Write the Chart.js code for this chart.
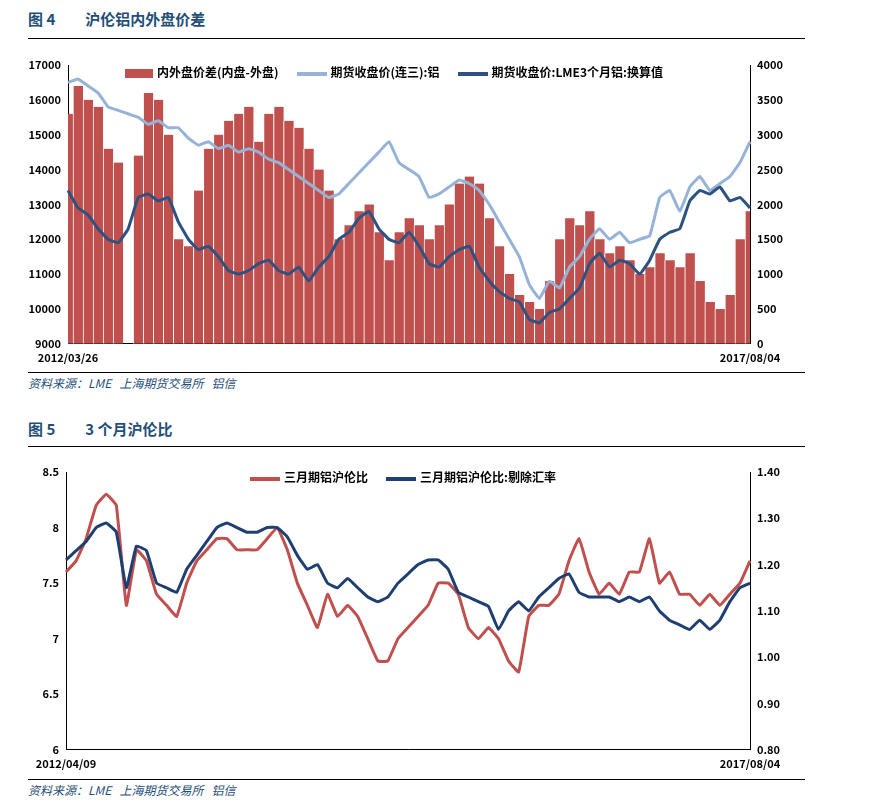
<!DOCTYPE html>
<html>
<head>
<meta charset="utf-8">
<script src="https://cdn.jsdelivr.net/npm/chart.js@4"></script>
<style>
  body { margin: 0; width: 877px; height: 811px; background: #fff; font-family: "Noto Sans CJK SC", sans-serif; position: relative; }
  .title { position: absolute; left: 28px; font-size: 15px; font-weight: bold; color: #1f4e79; }
  .title span { margin-left: 30px; }
  .rule { position: absolute; left: 28px; width: 777px; border-top: 1.5px solid #000; }
  .src { position: absolute; left: 28px; font-size: 12px; font-style: italic; color: #1f4e79; }
  .box { position: absolute; }
  .legend { position: absolute; font-size: 12px; font-weight: bold; color: #000; display: flex; gap: 18px; }
  .legend i { display: inline-block; width: 30px; height: 8px; margin-right: 4px; vertical-align: middle; }
</style>
</head>
<body>
<div class="title" style="top:8px">图 4<span>沪伦铝内外盘价差</span></div>
<div class="rule" style="top:38px"></div>
<div class="box" style="left:28px;top:45px;width:772px;height:322px"><canvas id="c1"></canvas></div>
<div class="legend" style="left:125px;top:63px">
  <div><i style="background:#c0504d;height:9px;width:28px"></i>内外盘价差(内盘-外盘)</div>
  <div><i style="background:#95b3d7;height:4px"></i>期货收盘价(连三):铝</div>
  <div><i style="background:#2c5282;height:4px"></i>期货收盘价:LME3个月铝:换算值</div>
</div>
<div class="rule" style="top:372px"></div>
<div class="src" style="top:374px">资料来源：LME &nbsp;&nbsp;上海期货交易所 &nbsp;&nbsp;铝信</div>

<div class="title" style="top:418px">图 5<span>3 个月沪伦比</span></div>
<div class="rule" style="top:446px"></div>
<div class="box" style="left:28px;top:451px;width:772px;height:322px"><canvas id="c2"></canvas></div>
<div class="legend" style="left:250px;top:468px">
  <div><i style="background:#c0504d;height:4px"></i>三月期铝沪伦比</div>
  <div><i style="background:#1f3f73;height:4px"></i>三月期铝沪伦比:剔除汇率</div>
</div>
<div class="rule" style="top:779px"></div>
<div class="src" style="top:781px">资料来源：LME &nbsp;&nbsp;上海期货交易所 &nbsp;&nbsp;铝信</div>

<script>
// chart 1 (weekly-ish samples)
const start1 = "2012/03/26", end1 = "2017/08/04";
const spread1 = [3300,3700,3500,3400,2800,2600,0,2700,3600,3500,3000,1500,1400,2200,2800,3000,3200,3300,3400,2900,3300,3400,3200,3100,2800,2500,2200,1500,1700,1900,2000,1600,1200,1600,1800,1700,1500,1700,2000,2300,2400,2300,1800,1400,1000,700,600,500,900,1500,1800,1700,1900,1500,1300,1400,1200,1000,1100,1300,1200,1100,1300,900,600,500,700,1500,1900];
const shfe1 = [16500,16600,16400,16200,15800,15700,15600,15500,15300,15400,15200,15200,14900,14700,14800,14600,14700,14500,14600,14500,14300,14200,14000,13800,13600,13400,13200,13300,13600,13900,14200,14500,14800,14200,14000,13800,13200,13300,13500,13700,13600,13400,13000,12500,12000,11500,10700,10300,10800,10600,11200,11500,12000,12300,12000,12200,11900,12000,12100,13200,13400,12800,13500,13800,13400,13600,13800,14200,14800];
const lme1 = [13400,12900,12700,12300,12000,11900,12300,13200,13300,13100,13200,12500,12000,11700,11800,11500,11100,11000,11100,11300,11400,11100,11000,11200,10800,11200,11500,12000,12200,12600,12800,12300,12000,11900,12200,11800,11300,11200,11500,11700,11800,11200,10800,10500,10300,10200,9700,9600,9900,10000,10300,10600,11300,11600,11200,11400,11300,11000,11400,12000,12200,12300,13100,13400,13300,13500,13100,13200,12900];

// chart 2
const start2 = "2012/04/09", end2 = "2017/08/04";
const ratio2 = [7.6,7.7,7.9,8.2,8.3,8.2,7.3,7.8,7.7,7.4,7.3,7.2,7.5,7.7,7.8,7.9,7.9,7.8,7.8,7.8,7.9,8.0,7.8,7.5,7.3,7.1,7.4,7.2,7.3,7.2,7.0,6.8,6.8,7.0,7.1,7.2,7.3,7.5,7.5,7.4,7.1,7.0,7.1,7.0,6.8,6.7,7.2,7.3,7.3,7.4,7.7,7.9,7.6,7.4,7.5,7.4,7.6,7.6,7.9,7.5,7.6,7.4,7.4,7.3,7.4,7.3,7.4,7.5,7.7];
const ratioFx2 = [1.21,1.23,1.25,1.28,1.29,1.27,1.15,1.24,1.23,1.16,1.15,1.14,1.19,1.22,1.25,1.28,1.29,1.28,1.27,1.27,1.28,1.28,1.26,1.22,1.19,1.20,1.16,1.15,1.17,1.15,1.13,1.12,1.13,1.16,1.18,1.20,1.21,1.21,1.19,1.14,1.13,1.12,1.11,1.06,1.10,1.12,1.10,1.13,1.15,1.17,1.18,1.14,1.13,1.13,1.13,1.12,1.13,1.12,1.13,1.10,1.08,1.07,1.06,1.08,1.06,1.08,1.12,1.15,1.16];

const font = { family: "Noto Sans CJK SC", size: 11, weight: "bold" };

function makeLabels(n, a, b) {
  let out = [];
  for (let i = 0; i < n; i++) out.push(i === 0 ? a : (i === n - 1 ? b : ""));
  return out;
}

function axis(pos, min, max, step, w, fmt) {
  return {
    position: pos, min: min, max: max,
    grid: { display: false, drawTicks: true, tickLength: 4 },
    border: { color: "#000" },
    ticks: { stepSize: step, color: "#000", font: font, callback: fmt || (v => v) },
    afterFit: s => { s.width = w; }
  };
}

function xAxis() {
  return {
    offset: false,
    grid: { display: false, tickLength: 4 },
    border: { color: "#000" },
    ticks: { autoSkip: false, maxRotation: 0, color: "#000", font: font, callback: function (v) { return this.getLabelForValue(v); } }
  };
}

Chart.defaults.animation = false;

new Chart(document.getElementById("c1"), {
  type: "bar",
  data: {
    labels: makeLabels(shfe1.length, start1, end1),
    datasets: [
      { type: "line", data: lme1, yAxisID: "y", borderColor: "#2c5282", borderWidth: 3, pointRadius: 0, tension: 0.1 },
      { type: "line", data: shfe1, yAxisID: "y", borderColor: "#95b3d7", borderWidth: 3, pointRadius: 0, tension: 0.1 },
      { data: spread1, yAxisID: "y1", backgroundColor: "#c0504d", borderColor: "#fff", borderWidth: { left: 1 }, barPercentage: 1, categoryPercentage: 1 }
    ]
  },
  options: {
    responsive: true, maintainAspectRatio: false,
    layout: { padding: { top: 20, right: 0 } },
    plugins: { legend: { display: false }, tooltip: { enabled: false } },
    scales: {
      x: xAxis(),
      y: axis("left", 9000, 17000, 1000, 40),
      y1: axis("right", 0, 4000, 500, 50)
    }
  }
});

new Chart(document.getElementById("c2"), {
  type: "line",
  data: {
    labels: makeLabels(ratioFx2.length, start2, end2),
    datasets: [
      { data: ratioFx2, yAxisID: "y1", borderColor: "#1f3f73", borderWidth: 3, pointRadius: 0, tension: 0.1 },
      { data: ratio2, yAxisID: "y", borderColor: "#c0504d", borderWidth: 3, pointRadius: 0, tension: 0.1 }
    ]
  },
  options: {
    responsive: true, maintainAspectRatio: false,
    layout: { padding: { top: 21, right: 0 } },
    plugins: { legend: { display: false }, tooltip: { enabled: false } },
    scales: {
      x: xAxis(),
      y: axis("left", 6, 8.5, 0.5, 38),
      y1: axis("right", 0.8, 1.4, 0.1, 50, v => v.toFixed(2))
    }
  }
});
</script>
</body>
</html>
